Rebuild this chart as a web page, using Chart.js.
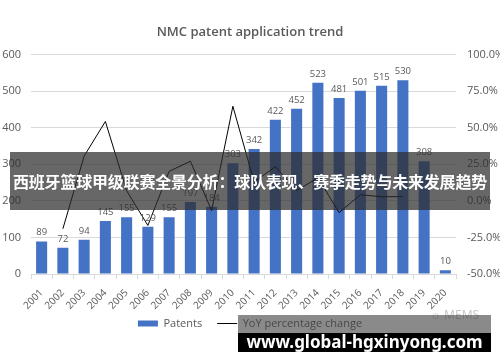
<!DOCTYPE html>
<html>
<head>
<meta charset="utf-8">
<script src="https://cdn.jsdelivr.net/npm/chart.js@4/dist/chart.umd.min.js"></script>
<style>
  html, body { margin: 0; padding: 0; background: #fff; }
  #wrap { position: relative; width: 500px; height: 362px; overflow: hidden; }
  #c { position: absolute; left: 0; top: 0; }
  #banner { position: absolute; left: 10px; top: 152px; width: 480px; height: 58px;
    background: rgba(45,45,45,0.72); color: #fff; font-family: "Noto Sans CJK SC", sans-serif;
    font-weight: 700; font-size: 16px; line-height: 58px; text-align: center; white-space: nowrap; letter-spacing: -0.2px; }
  #wmgray { position: absolute; left: 238px; top: 315px; width: 253px; height: 18px; background: rgba(60,60,60,0.6); }
  #wmblack { position: absolute; left: 238px; top: 333px; width: 253px; height: 19px; background: #000;
    color: #fff; font-family: "Noto Sans", sans-serif; font-weight: 700; font-size: 17px; line-height: 17px; text-align: center; white-space: nowrap; }
  #mems { position: absolute; left: 430px; top: 306px; color: #c8c8c8; font-family: "Noto Sans", sans-serif; font-size: 12px; white-space: nowrap; }
</style>
</head>
<body>
<div id="wrap">
  <canvas id="c" width="500" height="362"></canvas>
  <div id="mems">&#9788; MEMS</div>
  <div id="banner">西班牙篮球甲级联赛全景分析：球队表现、赛季走势与未来发展趋势</div>
  <div id="wmgray"></div>
  <div id="wmblack">www.global-hgxinyong.com</div>
</div>
<script>
const years = ["2001","2002","2003","2004","2005","2006","2007","2008","2009","2010","2011","2012","2013","2014","2015","2016","2017","2018","2019","2020"];
const patents = [89, 72, 94, 145, 155, 129, 155, 197, 184, 303, 342, 422, 452, 523, 481, 501, 515, 530, 308, 10];
const yoyChange = [null, -19.1, 30.6, 54.3, 6.9, -16.8, 20.2, 27.1, -6.6, 64.7, 12.9, 23.4, 7.1, 15.7, -8.0, 4.2, 2.8, 2.9, null, null];
const leftTicks = [0, 100, 200, 300, 400, 500, 600];
const rightTicks = [-50, -25, 0, 25, 50, 75, 100];

const FONT = '"Open Sans", "Noto Sans", sans-serif';
const GREY = '#595959';

const barLabels = {
  id: 'barLabels',
  afterDatasetsDraw(chart) {
    const ctx = chart.ctx;
    const meta = chart.getDatasetMeta(0);
    ctx.save();
    ctx.font = '9.5px ' + FONT;
    ctx.fillStyle = GREY;
    ctx.textAlign = 'center';
    ctx.textBaseline = 'bottom';
    meta.data.forEach((bar, i) => {
      ctx.fillText(String(patents[i]), bar.x, bar.y - 4);
    });
    ctx.restore();
  }
};

const legendShift = {
  id: 'legendShift',
  afterLayout(chart) {
    const lg = chart.legend;
    if (!lg) return;
    const h = lg.bottom - lg.top;
    lg.top = 303;
    lg.bottom = 303 + h;
  }
};

new Chart(document.getElementById('c'), {
  type: 'bar',
  data: {
    labels: years,
    datasets: [
      {
        type: 'bar',
        label: 'Patents',
        data: patents,
        backgroundColor: '#4472C4',
        borderWidth: 0,
        barPercentage: 0.52,
        categoryPercentage: 1.0,
        yAxisID: 'y',
        order: 2,
        pointStyle: 'rect'
      },
      {
        type: 'line',
        label: 'YoY percentage change',
        data: yoyChange,
        borderColor: '#000000',
        backgroundColor: '#000000',
        borderWidth: 1,
        pointRadius: 0,
        tension: 0,
        spanGaps: false,
        yAxisID: 'y1',
        order: 1,
        pointStyle: 'line'
      }
    ]
  },
  options: {
    responsive: false,
    animation: false,
    devicePixelRatio: 1,
    layout: { padding: { top: 0, left: 0, right: 0, bottom: 12 } },
    plugins: {
      title: {
        display: true,
        text: 'NMC patent application trend',
        color: GREY,
        font: { family: FONT, size: 13, weight: '600' },
        padding: { top: 24, bottom: 15 }
      },
      legend: {
        display: true,
        position: 'bottom',
        labels: {
          usePointStyle: true,
          pointStyleWidth: 20,
          boxHeight: 6,
          color: GREY,
          font: { family: FONT, size: 11 },
          padding: 15,
          sort: (a, b) => a.datasetIndex - b.datasetIndex
        }
      },
      tooltip: { enabled: false }
    },
    scales: {
      x: {
        offset: true,
        grid: { display: true, drawOnChartArea: false, offset: true, color: '#d9d9d9', tickLength: 5 },
        border: { display: true, color: '#d9d9d9' },
        ticks: { color: GREY, font: { family: FONT, size: 10 }, maxRotation: 45, minRotation: 45, padding: 8, autoSkip: false },
        afterFit(s) { s.height = 40; }
      },
      y: {
        position: 'left',
        min: 0, max: 600,
        afterBuildTicks(s) { s.ticks = leftTicks.map(v => ({ value: v })); },
        grid: { color: '#d9d9d9', drawTicks: false },
        border: { display: false },
        ticks: { color: GREY, font: { family: FONT, size: 11 }, padding: 10 },
        afterFit(s) { s.width = 31; }
      },
      y1: {
        position: 'right',
        min: -50, max: 100,
        afterBuildTicks(s) { s.ticks = rightTicks.map(v => ({ value: v })); },
        grid: { display: false, drawTicks: false },
        border: { display: false },
        ticks: { color: GREY, font: { family: FONT, size: 11 }, padding: 11, callback: v => v.toFixed(1) + '%' },
        afterFit(s) { s.width = 44; }
      }
    }
  },
  plugins: [barLabels, legendShift]
});
</script>
</body>
</html>
